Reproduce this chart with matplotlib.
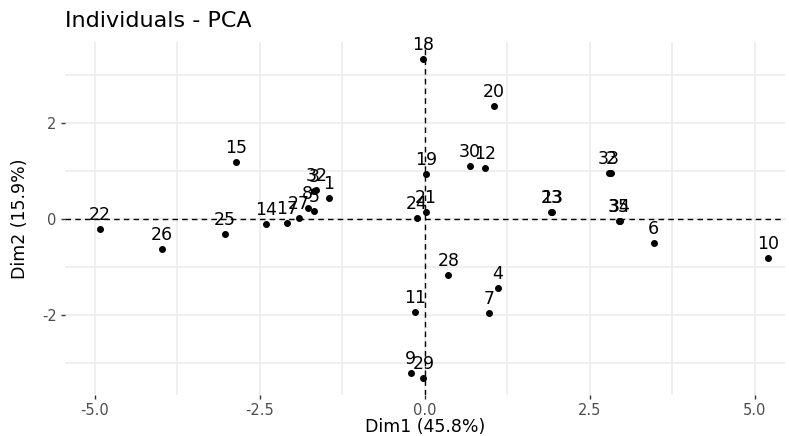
import matplotlib
matplotlib.use("Agg")
import matplotlib.pyplot as plt
from matplotlib.ticker import MultipleLocator

plt.rcParams['font.family'] = ['DejaVu Sans']

labels = ["18", "20", "15", "3", "32", "1", "8", "5", "27", "17", "14",
          "19", "30", "12", "33", "2", "21", "24", "23", "13", "35", "34",
          "6", "10", "22", "26", "25", "28", "4", "11", "7", "9", "29"]
dim1 = [-0.02, 1.05, -2.86, -1.68, -1.64, -1.45, -1.77, -1.67, -1.91, -2.08, -2.41,
        0.02, 0.68, 0.92, 2.79, 2.82, 0.02, -0.12, 1.92, 1.93, 2.94, 2.96,
        3.47, 5.20, -4.92, -3.98, -3.03, 0.36, 1.11, -0.15, 0.97, -0.21, -0.02]
dim2 = [3.34, 2.36, 1.19, 0.59, 0.61, 0.44, 0.24, 0.17, 0.03, -0.08, -0.10,
        0.94, 1.11, 1.07, 0.96, 0.96, 0.15, 0.03, 0.15, 0.15, -0.04, -0.04,
        -0.49, -0.81, -0.20, -0.62, -0.31, -1.16, -1.43, -1.94, -1.96, -3.20, -3.31]

title = "Individuals - PCA"
xlabel = "Dim1 (45.8%)"
ylabel = "Dim2 (15.9%)"
xticks = [-5.0, -2.5, 0.0, 2.5, 5.0]
yticks = [-2, 0, 2]

W, H = 789, 436
fig = plt.figure(figsize=(W / 100, H / 100), dpi=100)
ax = fig.add_axes([65 / W, (H - 395) / H, 720 / W, 353 / H])

ax.set_xlim(-5.45, 5.46)
ax.set_ylim(-3.66, 3.69)

ax.xaxis.set_minor_locator(MultipleLocator(1.25))
ax.yaxis.set_minor_locator(MultipleLocator(1))
ax.set_xticks(xticks)
ax.set_xticklabels([f"{v:.1f}" for v in xticks])
ax.set_yticks(yticks)
ax.set_yticklabels([str(v) for v in yticks])

ax.grid(which='major', color='#EBEBEB', linewidth=1.1)
ax.grid(which='minor', color='#EBEBEB', linewidth=1.1)
ax.set_axisbelow(True)
for s in ax.spines.values():
    s.set_visible(False)
ax.tick_params(which='major', length=3, width=1, color='#333333',
               labelcolor='#4D4D4D', labelsize=10.5, pad=3)
ax.tick_params(which='minor', length=0)

ax.axhline(0, color='black', linestyle=(0, (4, 3)), linewidth=1)
ax.axvline(0, color='black', linestyle=(0, (4, 3)), linewidth=1)

ax.scatter(dim1, dim2, s=16, color='black', zorder=3)
for lab, x, y in zip(labels, dim1, dim2):
    ax.annotate(lab, (x, y), xytext=(0, 6.5), textcoords='offset points',
                ha='center', va='baseline', fontsize=12.5, color='black', zorder=4)

ax.set_xlabel(xlabel, fontsize=12.5, color='black')
ax.set_ylabel(ylabel, fontsize=12.5, color='black')
ax.xaxis.set_label_coords(0.5, -0.092)
ax.xaxis.label.set_va('center')
ax.yaxis.set_label_coords(-0.0625, 0.5)
ax.yaxis.label.set_va('center')
fig.text(65 / W, 1 - 21 / H, title, fontsize=16, ha='left', va='center', color='black')

fig.savefig("out.png", dpi=100)
